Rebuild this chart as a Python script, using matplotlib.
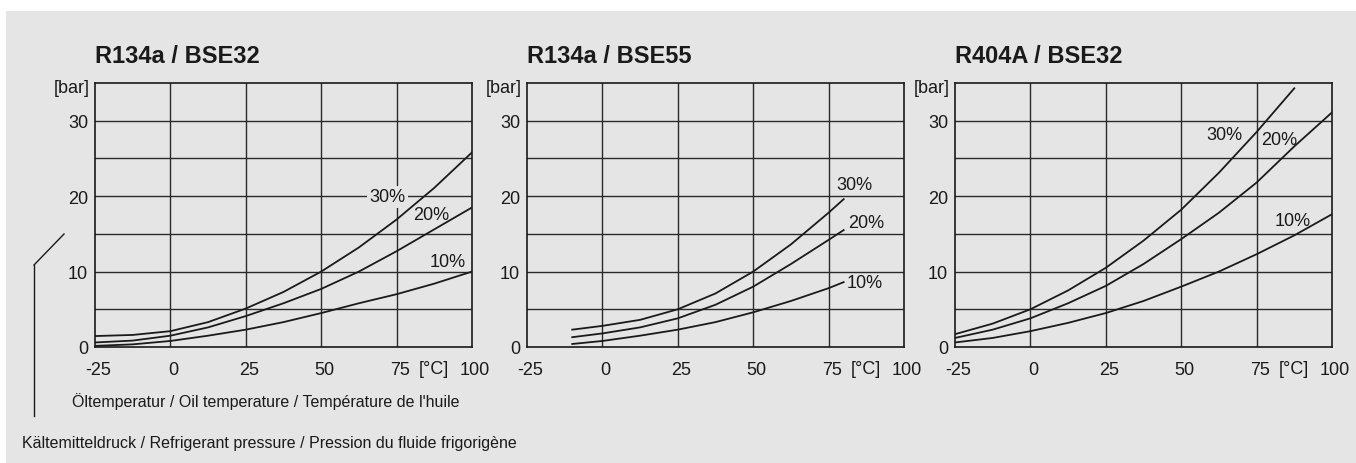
import matplotlib

matplotlib.use("Agg")
import matplotlib.pyplot as plt
import matplotlib.transforms as mtransforms
from matplotlib.lines import Line2D
from matplotlib.patches import Rectangle

plt.rcParams["font.family"] = ["Liberation Sans", "DejaVu Sans"]

BG = "#e5e5e5"
INK = "#1a1a1a"

TITLES = ["R134a / BSE32", "R134a / BSE55", "R404A / BSE32"]
SERIES = ["30%", "20%", "10%"]

# R134a / BSE32
T1 = [-25, -12.5, 0, 12.5, 25, 37.5, 50, 62.5, 75, 87.5, 100]
P1_30 = [1.45, 1.6, 2.1, 3.3, 5.1, 7.3, 10.0, 13.2, 16.9, 21.1, 25.8]
P1_20 = [0.6, 0.85, 1.5, 2.6, 4.1, 5.8, 7.7, 10.0, 12.7, 15.6, 18.5]
P1_10 = [0.15, 0.35, 0.8, 1.5, 2.3, 3.3, 4.5, 5.8, 7.0, 8.4, 10.0]

# R134a / BSE55
T2 = [-10, 0, 12.5, 25, 37.5, 50, 62.5, 75, 80]
P2_30 = [2.3, 2.8, 3.6, 5.0, 7.1, 10.0, 13.6, 17.8, 19.6]
P2_20 = [1.3, 1.8, 2.6, 3.8, 5.6, 8.0, 11.0, 14.2, 15.5]
P2_10 = [0.4, 0.8, 1.5, 2.3, 3.3, 4.6, 6.1, 7.8, 8.6]

# R404A / BSE32
T3_30 = [-25, -12.5, 0, 12.5, 25, 37.5, 50, 62.5, 75, 87.5]
P3_30 = [1.7, 3.1, 5.0, 7.5, 10.5, 14.1, 18.2, 23.1, 28.5, 34.3]
T3 = [-25, -12.5, 0, 12.5, 25, 37.5, 50, 62.5, 75, 87.5, 100]
P3_20 = [1.2, 2.3, 3.8, 5.8, 8.1, 11.0, 14.3, 17.8, 21.8, 26.6, 31.1]
P3_10 = [0.6, 1.2, 2.1, 3.2, 4.5, 6.1, 8.0, 10.0, 12.3, 14.8, 17.6]

PANELS = [
    [(T1, P1_30), (T1, P1_20), (T1, P1_10)],
    [(T2, P2_30), (T2, P2_20), (T2, P2_10)],
    [(T3_30, P3_30), (T3, P3_20), (T3, P3_10)],
]

X_TICKS = [-25, 0, 25, 50, 75, 100]
Y_TICKS = [0, 10, 20, 30]

# label placement (x, y, masked) per panel, same order as SERIES
LABEL_POS = [
    [(72, 19.9, True), (86.5, 17.5, False), (92, 11.4, False)],
    [(83.5, 21.6, False), (87.6, 16.5, False), (87, 8.5, False)],
    [(64.2, 28.2, False), (82.4, 27.5, False), (87, 16.8, False)],
]

W, H = 1356, 464
AX_LEFT = [95, 527, 955]
AX_W, AX_TOP, AX_BOT = 377, 84, 348
FS = 13

fig = plt.figure(figsize=(W / 100, H / 100), dpi=100)
fig.patch.set_facecolor("white")
fig.patches.append(Rectangle((6 / W, 0), 1 - 6 / W, 1 - 12 / H,
                             transform=fig.transFigure, facecolor=BG,
                             edgecolor="none", zorder=-10))
shift = mtransforms.ScaledTranslation(0.03, 0, fig.dpi_scale_trans)

for i, ax_left in enumerate(AX_LEFT):
    ax = fig.add_axes([ax_left / W, 1 - AX_BOT / H, AX_W / W, (AX_BOT - AX_TOP) / H])
    ax.set_facecolor(BG)
    ax.set_xlim(-25, 100)
    ax.set_ylim(0, 35)

    for gx in X_TICKS[1:-1]:
        ax.axvline(gx, color="#2a2a2a", lw=1.0, zorder=1)
    for gy in [5, 10, 15, 20, 25, 30]:
        ax.axhline(gy, color="#2a2a2a", lw=1.0, zorder=1)

    for (xs, ys) in PANELS[i]:
        ax.plot(xs, ys, color=INK, lw=1.3, zorder=3)

    for name, (lx, ly, masked) in zip(SERIES, LABEL_POS[i]):
        kw = {}
        if masked:
            kw["bbox"] = dict(facecolor=BG, edgecolor="none", pad=1.5)
        ax.text(lx, ly, name, fontsize=FS, color=INK, ha="center",
                va="center", zorder=4, **kw)

    ax.set_xticks(X_TICKS)
    ax.set_xticklabels([str(t) for t in X_TICKS])
    ax.set_yticks(Y_TICKS)
    ax.tick_params(length=0, labelsize=FS, colors=INK)
    ax.tick_params(axis="x", pad=10)
    ax.tick_params(axis="y", pad=5)
    for lab in ax.get_xticklabels():
        lab.set_transform(lab.get_transform() + shift)
    for s in ax.spines.values():
        s.set_color(INK)
        s.set_linewidth(1.2)

    ax.text(87.5, -2.8, "[°C]", fontsize=FS, color=INK, ha="center",
            va="center", transform=ax.transData, clip_on=False)
    ax.text(-0.015, 34.4, "[bar]", fontsize=FS, color=INK, ha="right",
            va="center", transform=ax.get_yaxis_transform(), clip_on=False)
    ax.text(0.0, 1.103, TITLES[i], fontsize=17, fontweight="bold",
            color=INK, ha="left", va="center", transform=ax.transAxes)

fig.text(72 / W, 1 - 402 / H, "Öltemperatur / Oil temperature / Température de l'huile",
         fontsize=11.5, color=INK, ha="left", va="center")
fig.text(22 / W, 1 - 444 / H,
         "Kältemitteldruck / Refrigerant pressure / Pression du fluide frigorigène",
         fontsize=11.5, color=INK, ha="left", va="center")
fig.lines.append(Line2D([34 / W, 34 / W], [1 - 417 / H, 1 - 266 / H],
                        transform=fig.transFigure, color=INK, lw=1.0))
fig.lines.append(Line2D([34 / W, 64 / W], [1 - 266 / H, 1 - 235 / H],
                        transform=fig.transFigure, color=INK, lw=1.0))

fig.savefig("out.png", dpi=100, facecolor=fig.get_facecolor())
